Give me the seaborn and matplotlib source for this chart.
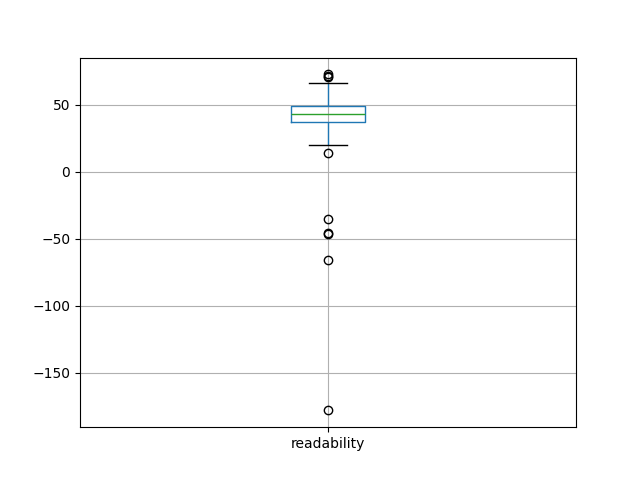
import pandas as pd
import numpy as np
import matplotlib
matplotlib.use("Agg")
import matplotlib.pyplot as plt
import seaborn as sns

readability = [
  -178, -66, -46, -45.5, -35, 14.4, 19.9, 26, 31, 35,
  37.3, 38, 39, 39.5, 40, 41, 41.5, 42, 42.5, 43,
  43.3, 44, 44.5, 45, 46, 46.5, 47, 47.5, 48, 48.5,
  49.0, 50, 52, 54, 57, 60, 63, 66.2, 70.5, 71.5, 72.8,
]

df = pd.DataFrame({"readability": readability})

fig, ax = plt.subplots(figsize=(6.4, 4.8), dpi=100)
sns.boxplot(
  data=df, ax=ax, width=0.15, fill=False, linewidth=1, whis=1.5,
  boxprops=dict(color="C0", linewidth=1, zorder=2),
  whiskerprops=dict(color="C0", linewidth=1, zorder=2),
  capprops=dict(color="black", linewidth=1, zorder=2),
  medianprops=dict(color="C2", linewidth=1, zorder=2),
  flierprops=dict(marker="o", markerfacecolor="none", markeredgecolor="black",
                  markersize=6, linestyle="none", zorder=2),
)
ax.set_xlim(-0.5, 0.5)
ax.grid(True, zorder=1)
ax.set_axisbelow("line")
plt.savefig("out.png")
